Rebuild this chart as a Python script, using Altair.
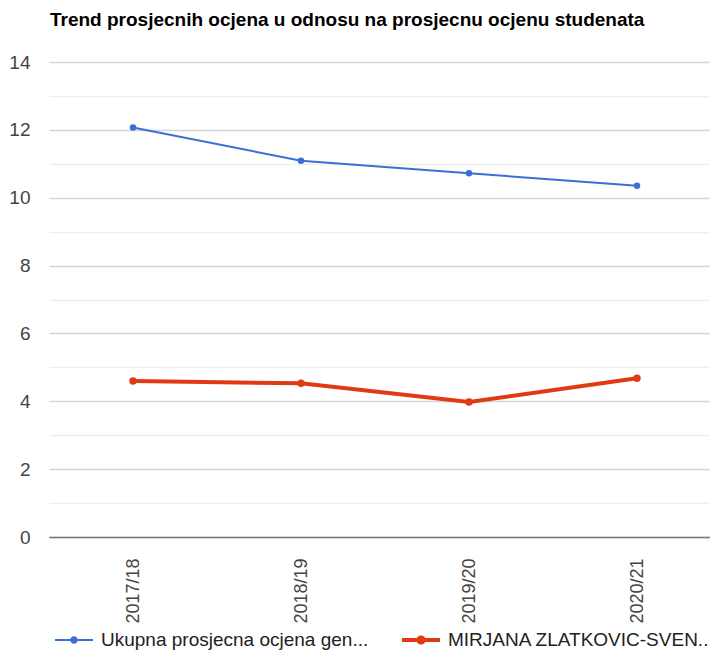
import altair as alt
import pandas as pd

years = ["2017/18", "2018/19", "2019/20", "2020/21"]
series_names = ["Ukupna prosjecna ocjena gen...", "MIRJANA ZLATKOVIC-SVEN..."]
ukupna = [12.07, 11.09, 10.72, 10.35]
mirjana = [4.60, 4.53, 3.98, 4.68]

colors = ["#3a6fd8", "#e03a14"]
line_widths = [2, 4]
point_sizes = [42, 55]
# legend symbols: a line with a dot in the middle (custom SVG paths in [-1, 1])
sym_paths = [
    "M-1,-0.055H1V0.055H-1Z M0.2,0A0.2,0.2 0 1,1 -0.2,0A0.2,0.2 0 1,1 0.2,0Z",
    "M-1,-0.105H1V0.105H-1Z M0.24,0A0.24,0.24 0 1,1 -0.24,0A0.24,0.24 0 1,1 0.24,0Z",
]

rows = []
for name, vals in zip(series_names, [ukupna, mirjana]):
    for y, v in zip(years, vals):
        rows.append({"year": y, "value": v, "series": name})
df = pd.DataFrame(rows)

FONT = "Liberation Sans, Arial, sans-serif"

x_enc = alt.X(
    "year:N",
    sort=years,
    title=None,
    scale=alt.Scale(type="point", padding=0.5),
    axis=alt.Axis(
        labelAngle=270,
        labelFontSize=18,
        labelColor="#444444",
        labelFont=FONT,
        labelPadding=21,
        ticks=False,
        grid=False,
        domainColor="#777777",
        domainWidth=1.5,
    ),
)
y_enc = alt.Y(
    "value:Q",
    title=None,
    scale=alt.Scale(domain=[0, 14], nice=False),
    axis=alt.Axis(
        values=list(range(0, 15)),
        labelExpr="datum.value % 2 == 0 ? datum.label : ''",
        labelFontSize=19,
        labelColor="#444444",
        labelFont=FONT,
        labelPadding=19,
        ticks=False,
        domain=False,
        grid=True,
        gridColor={"condition": {"test": "datum.value % 2 == 1", "value": "#efefef"}, "value": "#d6d6d6"},
        gridWidth=1.5,
    ),
)

base = alt.Chart(df)
layers = []
for i, name in enumerate(series_names):
    sub = base.transform_filter(alt.datum.series == name)
    layers.append(sub.mark_line(color=colors[i], strokeWidth=line_widths[i]))
    layers.append(sub.mark_circle(color=colors[i], size=point_sizes[i], opacity=1))

leg = alt.Legend(
    title=None,
    orient="bottom",
    direction="horizontal",
    offset=-9,
    padding=6,
    symbolSize=1444,
    symbolStrokeWidth=0,
    symbolOpacity=1,
    labelFontSize=19,
    labelFont=FONT,
    labelColor="#222222",
    labelOffset=8,
    labelLimit=500,
    columnPadding=33,
)
legend_layer = (
    base.transform_filter("false")
    .mark_point(filled=True)
    .encode(
        color=alt.Color("series:N", scale=alt.Scale(domain=series_names, range=colors), legend=leg),
        shape=alt.Shape("series:N", scale=alt.Scale(domain=series_names, range=sym_paths), legend=leg),
    )
)
layers.append(legend_layer)

chart = (
    alt.layer(*layers)
    .encode(x=x_enc, y=y_enc)
    .properties(
        width=672,
        height=475,
        autosize=alt.AutoSizeParams(type="none"),
        padding={"left": 41, "top": 54, "right": -11, "bottom": 113},
        view=alt.ViewBackground(stroke="transparent", strokeWidth=0),
        title=alt.TitleParams(
            "Trend prosjecnih ocjena u odnosu na prosjecnu ocjenu studenata",
            anchor="start",
            frame="group",
            baseline="alphabetic",
            offset=8,
            dx=1,
            font=FONT,
            fontSize=19,
            fontWeight="bold",
            color="#000000",
        ),
    )
    .configure_view(stroke="transparent", strokeWidth=0, strokeOpacity=0)
    .configure_axisY(domain=False, ticks=False)
    .configure(background="white")
)

chart.save("out.html", embed_options={"renderer": "svg", "actions": False})
